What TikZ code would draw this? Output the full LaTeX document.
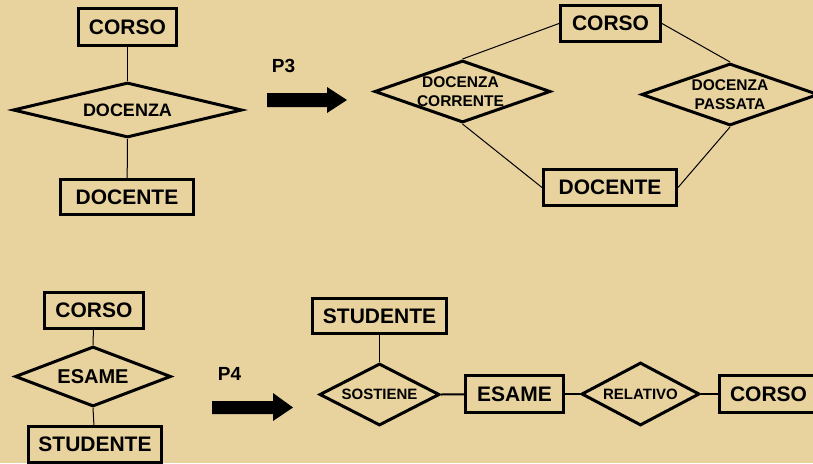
\documentclass[tikz,border=0pt]{standalone}
\usepackage{fontspec}
\setmainfont{Liberation Sans}
\usetikzlibrary{shapes.geometric}
\definecolor{parch}{HTML}{E8D29E}
\tikzset{
  entity/.style={draw, line width=3pt, rectangle, inner sep=0pt,
    font=\bfseries\fontsize{21}{25}\selectfont},
  relation/.style={draw, line width=3pt, diamond, inner sep=-4pt, align=center},
  bigrel/.style={relation, font=\bfseries\fontsize{18}{22}\selectfont},
  smallrel/.style={relation, font=\bfseries\fontsize{15.5}{19}\selectfont},
  link/.style={line width=1pt},
  heavylink/.style={line width=2pt},
  blockarrow/.style={fill=black},
  tag/.style={font=\bfseries\fontsize{19}{23}\selectfont, inner sep=0pt}
}
\begin{document}
\begin{tikzpicture}[x=1pt, y=-1pt]
  \useasboundingbox (0,0) rectangle (813,463);
  \fill[parch] (0,0) rectangle (813,463);

  % ---- CORSO -- DOCENZA -- DOCENTE
  \node[entity, minimum width=98pt, minimum height=37pt] (c1) at (127.5,27) {CORSO};
  \node[bigrel, minimum width=229pt, minimum height=55pt, aspect=4] (r1) at (127.5,110) {DOCENZA};
  \node[entity, minimum width=133pt, minimum height=35pt] (e1) at (127,197) {DOCENTE};
  \draw[link] (c1) -- (r1.north);
  \draw[link] (r1.south) -- (e1);

  % ---- transformation P3
  \node[tag] (p3) at (283.5,65.5) {P3};
  \fill[blockarrow] (267,93) -- (327,93) -- (327,87) -- (347,100)
    -- (327,113) -- (327,107) -- (267,107) -- cycle;

  % ---- current / past teaching
  \node[entity, minimum width=100pt, minimum height=36pt] (c2) at (610.5,23.5) {CORSO};
  \node[smallrel, minimum width=176pt, minimum height=62pt, aspect=2.8] (r2) at (462.5,91.5) {\hspace*{-4pt}DOCENZA\\[0pt]\hspace*{-4pt}CORRENTE};
  \node[smallrel, minimum width=177pt, minimum height=62pt, aspect=2.8] (r3) at (730,94.5) {DOCENZA\\[0pt]PASSATA};
  \node[entity, minimum width=133pt, minimum height=36pt] (e2) at (610,187.5) {DOCENTE};
  \draw[link] (c2.west) -- (r2.north);
  \draw[link] (c2.east) -- (r3.north);
  \draw[link] (r2.south) -- (e2.west);
  \draw[link] (r3.south) -- (e2.east);

  % ---- CORSO -- ESAME -- STUDENTE
  \node[entity, minimum width=99pt, minimum height=36pt] (c3) at (94,310.5) {CORSO};
  \node[relation, font=\bfseries\fontsize{20}{24}\selectfont, minimum width=156pt, minimum height=60pt, aspect=2.5] (r4) at (93,376.5) {ESAME};
  \node[entity, minimum width=133pt, minimum height=36pt] (e3) at (95,444.5) {STUDENTE};
  \draw[link] (c3) -- (r4.north);
  \draw[link] (r4.south) -- (e3);

  % ---- transformation P4
  \node[tag] (p4) at (229.5,373.5) {P4};
  \fill[blockarrow] (212,401) -- (273,401) -- (273,393) -- (293,407.5)
    -- (273,421) -- (273,414) -- (212,414) -- cycle;

  % ---- exam as entity
  \node[entity, minimum width=134pt, minimum height=35pt] (e4) at (379.5,316) {STUDENTE};
  \node[smallrel, font=\bfseries\fontsize{15}{18}\selectfont, minimum width=120pt, minimum height=62pt, aspect=1.9] (r5) at (379.5,394.5) {SOSTIENE};
  \node[entity, minimum width=98pt, minimum height=37pt] (e5) at (514.5,394) {ESAME};
  \node[smallrel, font=\bfseries\fontsize{15}{18}\selectfont, minimum width=118pt, minimum height=63pt, aspect=1.85] (r6) at (640.5,394) {RELATIVO};
  \node[entity, minimum width=98pt, minimum height=37pt] (e6) at (768.5,394) {CORSO};
  \draw[link] (e4) -- (r5.north);
  \draw[heavylink] (r5.east) -- (e5);
  \draw[heavylink] (e5) -- (r6.west);
  \draw[heavylink] (r6.east) -- (e6);
\end{tikzpicture}
\end{document}
